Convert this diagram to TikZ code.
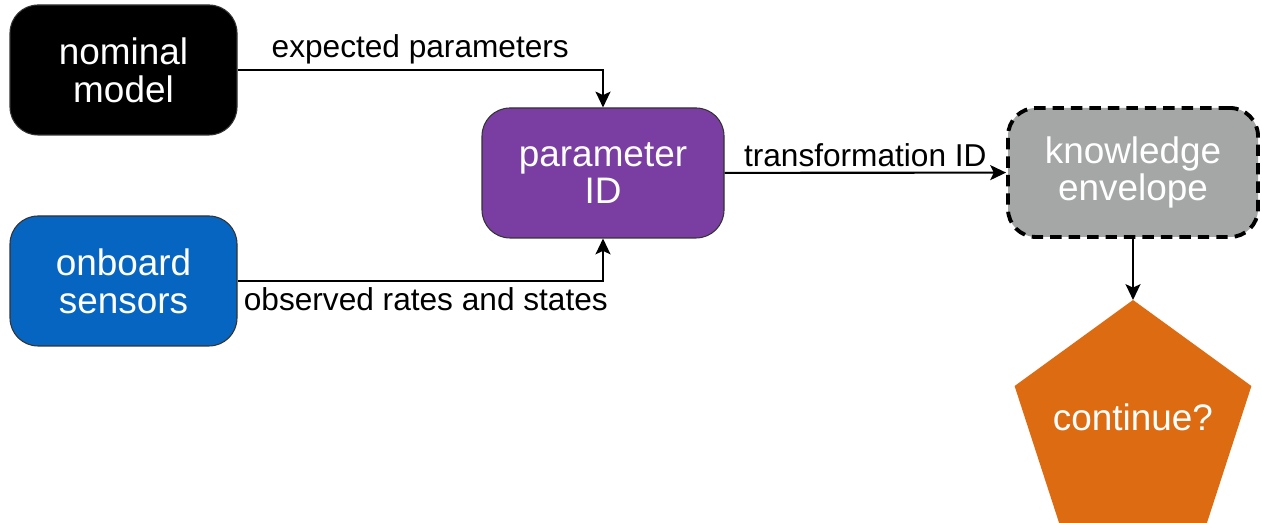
\documentclass[tikz,border=0pt]{standalone}
\usepackage{fontspec}
\setmainfont{Liberation Sans}
\usetikzlibrary{arrows.meta,shapes.geometric}
\definecolor{sensorblue}{HTML}{0565C0}
\definecolor{idpurple}{HTML}{7A3EA2}
\definecolor{envgray}{HTML}{A4A7A5}
\definecolor{goorange}{HTML}{DD6B11}

\begin{document}
\begin{tikzpicture}[auto,
    box/.style={rounded corners=0.56cm, minimum width=4.54cm, minimum height=2.6cm,
      align=center, text=white, font=\fontsize{21}{21.5}\selectfont,
      draw=black!80, line width=0.6pt},
    lbl/.style={font=\fontsize{18}{20}\selectfont, inner sep=3pt},
    flow/.style={line width=1.2pt, -{Stealth[length=9pt,width=8.5pt,inset=2pt]}}]
    \useasboundingbox (0,0) rectangle (25.24,10.46);
    \node[box, fill=black] (n) at (2.47, 9.06) {nominal\\model};
    \node[box, fill=sensorblue] (o) at (2.47, 4.84) {onboard\\sensors};
    \node[box, fill=idpurple, minimum width=4.84cm] (p) at (12.06, 7.0) {parameter\\ID};
    \node[box, fill=envgray, draw=black, line width=2.2pt, dash pattern=on 6.5pt off 4pt,
      minimum width=5.0cm, minimum height=2.58cm] (k) at (22.66, 7.01) {knowledge\\envelope};
    \node[regular polygon, regular polygon sides=5, minimum size=4.98cm, inner sep=0pt,
      outer sep=0pt, fill=goorange,
      label={[text=white, font=\fontsize{21}{21.5}\selectfont, yshift=0.14cm]center:continue?}] (c) at (22.66, 1.97) {};
    \draw [flow] (n) -| node[lbl, pos=0.25, above] {expected parameters} (p);
    \draw [flow] (o) -| node[lbl, pos=0, below right] {observed rates and states} (p);
    \draw [flow] (p) to node[lbl, above] {transformation ID} (k);
    \draw [flow] (k) to (c);
\end{tikzpicture}
\end{document}
